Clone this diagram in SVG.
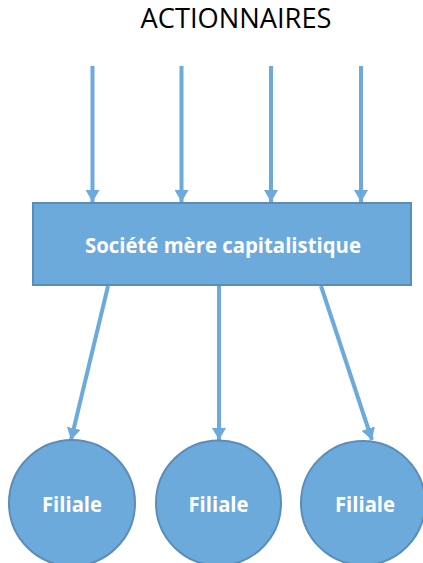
<svg xmlns="http://www.w3.org/2000/svg" width="423" height="563" viewBox="0 0 423 563">
<style>
.title{font-family:"Open Sans","Liberation Sans",sans-serif;font-size:27px;fill:#000}
.lbl{font-family:"Open Sans","Liberation Sans",sans-serif;font-weight:bold;font-size:21px;fill:#fff}
.node{fill:#6CAADC;stroke:#5A8DBA;stroke-width:2}
.conn{stroke:#6CAADC;stroke-width:4;fill:none;marker-end:url(#ah)}
</style>
<defs>
<marker id="ah" markerUnits="userSpaceOnUse" markerWidth="14" markerHeight="14" refX="12" refY="7" orient="auto">
<path d="M0,0 L12,7 L0,14 Z" fill="#6CAADC"/>
</marker>
</defs>
<rect width="423" height="563" fill="#fff"/>
<text class="title" x="236" y="28" text-anchor="middle" textLength="191" lengthAdjust="spacingAndGlyphs">ACTIONNAIRES</text>
<g id="connectors">
<line class="conn" x1="92.5" y1="66" x2="92.5" y2="202"/>
<line class="conn" x1="181.5" y1="66" x2="181.5" y2="202"/>
<line class="conn" x1="271" y1="66" x2="271" y2="202"/>
<line class="conn" x1="361" y1="66" x2="361" y2="202"/>
<line class="conn" x1="108" y1="286" x2="71" y2="440"/>
<line class="conn" x1="219" y1="286" x2="219" y2="440"/>
<line class="conn" x1="321" y1="286" x2="372" y2="440"/>
</g>
<g id="mere">
<rect class="node" x="33" y="203" width="378" height="82"/>
<text class="lbl" x="223" y="253" text-anchor="middle" textLength="276" lengthAdjust="spacingAndGlyphs">Société mère capitalistique</text>
</g>
<g id="filiale1">
<circle class="node" cx="72" cy="503" r="63"/>
<text class="lbl" x="72" y="512" text-anchor="middle" textLength="60" lengthAdjust="spacingAndGlyphs">Filiale</text>
</g>
<g id="filiale2">
<circle class="node" cx="218.5" cy="503" r="62.5"/>
<text class="lbl" x="218.5" y="512" text-anchor="middle" textLength="60" lengthAdjust="spacingAndGlyphs">Filiale</text>
</g>
<g id="filiale3">
<circle class="node" cx="363" cy="503" r="62"/>
<text class="lbl" x="365" y="512" text-anchor="middle" textLength="60" lengthAdjust="spacingAndGlyphs">Filiale</text>
</g>
</svg>
